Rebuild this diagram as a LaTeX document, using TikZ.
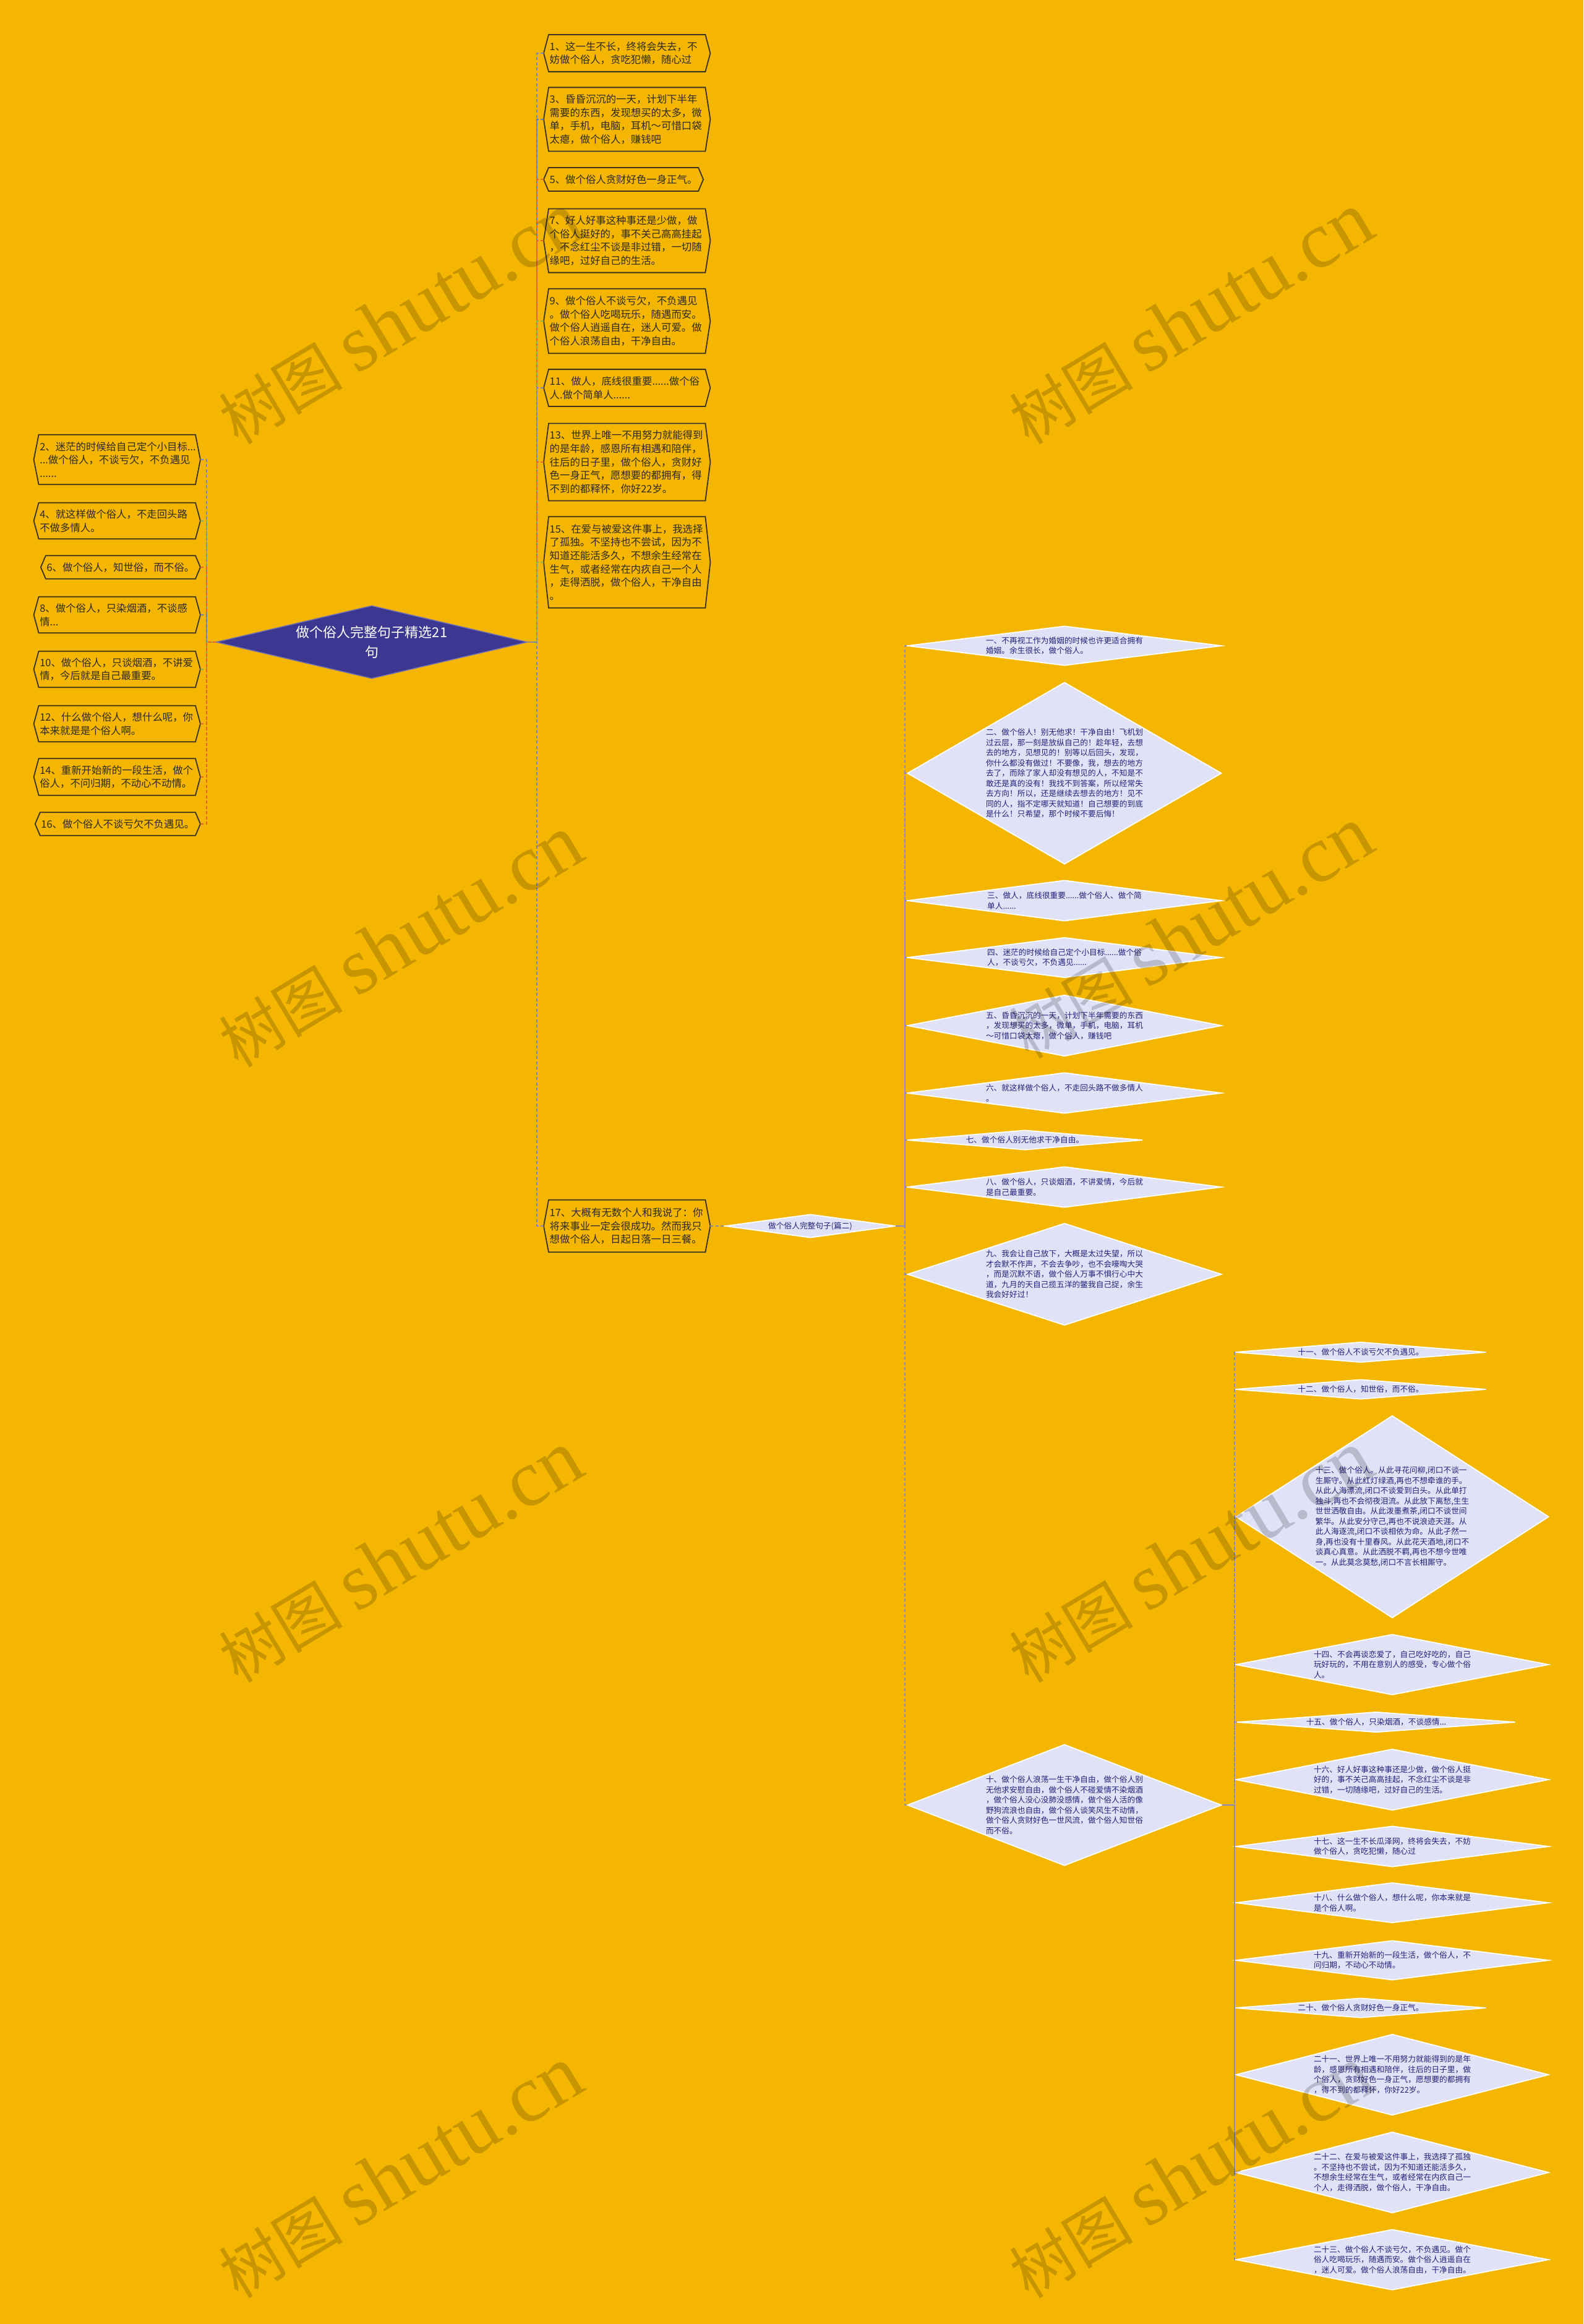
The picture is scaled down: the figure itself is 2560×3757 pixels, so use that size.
\documentclass[tikz,border=0pt]{standalone}
\usepackage{fontspec}
\setmainfont{Noto Sans CJK SC}
\newfontfamily\wmserif{Liberation Serif}
\usetikzlibrary{shapes.geometric}
\definecolor{bg}{HTML}{F4B600}
\definecolor{hexline}{HTML}{3B3220}
\definecolor{hextext}{HTML}{2E2A22}
\definecolor{rootfill}{HTML}{3C3791}
\definecolor{rootedge}{HTML}{7470B0}
\definecolor{lav}{HTML}{E1E2F7}
\definecolor{navy}{HTML}{22237A}
\definecolor{cA}{HTML}{7F86B8}
\definecolor{cB}{HTML}{E4662C}
\definecolor{cC}{HTML}{86B24C}
\definecolor{cD}{HTML}{5E7CC8}
\definecolor{cE}{HTML}{8A8AC4}
\definecolor{cF}{HTML}{8E8E98}
\newcommand\hexfr[1]{\draw[hexframe] ([xshift=-8pt]#1.west) -- (#1.north west) -- (#1.north east) -- ([xshift=8pt]#1.east) -- (#1.south east) -- (#1.south west) -- cycle;}
\begin{document}
\begin{tikzpicture}[x=1pt,y=-1pt,
  hexn/.style={inner xsep=1.5pt, inner ysep=0pt, text width=250pt, align=left, text=hextext, font=\fontsize{16.4}{21.7}\selectfont},
  hexone/.style={inner xsep=1.5pt, inner ysep=0pt, text=hextext, font=\fontsize{16.4}{21.7}\selectfont},
  hexframe/.style={draw=hexline, line width=1.8pt, line join=miter},
  rd/.style={shape=diamond, draw=white, line width=1.8pt, fill=lav, text=navy, inner sep=0pt, align=left, font=\fontsize{12.7}{16.5}\selectfont},
  rootd/.style={shape=diamond, fill=rootfill, draw=rootedge, line width=1.5pt, text=white, inner sep=0pt, align=center, font=\fontsize{22}{32}\selectfont},
  conn/.style={dash pattern=on 5pt off 3.5pt, line width=2pt},
  wm/.style={rotate=31, text=black, text opacity=0.18, inner sep=0pt, font=\fontsize{100}{100}\selectfont}
]
\useasboundingbox (0,0) rectangle (2560,3757);
\fill[bg] (0,0) rectangle (2560,3757);

% root
\node[rootd, minimum width=503, minimum height=118, shape aspect=4.26] (root) at (601,1038) {做个俗人完整句子精选21\\句};

% middle column
\node[hexn, anchor=west, minimum height=59.4] (m1) at (887,86) {1、这一生不长，终将会失去，不\\妨做个俗人，贪吃犯懒，随心过};
\node[hexn, anchor=west, minimum height=102.8] (m3) at (887,193) {3、昏昏沉沉的一天，计划下半年\\需要的东西，发现想买的太多，微\\单，手机，电脑，耳机～可惜口袋\\太瘪，做个俗人，赚钱吧};
\node[hexone, anchor=west, minimum height=37.7] (m5) at (887,290) {5、做个俗人贪财好色一身正气。};
\node[hexn, anchor=west, minimum height=102.8] (m7) at (887,389) {7、好人好事这种事还是少做，做\\个俗人挺好的，事不关己高高挂起\\，不念红尘不谈是非过错，一切随\\缘吧，过好自己的生活。};
\node[hexn, anchor=west, minimum height=104] (m9) at (887,519) {9、做个俗人不谈亏欠，不负遇见\\。做个俗人吃喝玩乐，随遇而安。\\做个俗人逍遥自在，迷人可爱。做\\个俗人浪荡自由，干净自由。};
\node[hexn, anchor=west, minimum height=59.4] (m11) at (887,627) {11、做人，底线很重要......做个俗\\人.做个简单人......};
\node[hexn, anchor=west, minimum height=124.5] (m13) at (887,747) {13、世界上唯一不用努力就能得到\\的是年龄，感恩所有相遇和陪伴，\\往后的日子里，做个俗人，贪财好\\色一身正气，愿想要的都拥有，得\\不到的都释怀，你好22岁。};
\node[hexn, anchor=west, minimum height=147] (m15) at (887,909) {15、在爱与被爱这件事上，我选择\\了孤独。不坚持也不尝试，因为不\\知道还能活多久，不想余生经常在\\生气，或者经常在内疚自己一个人\\，走得洒脱，做个俗人，干净自由\\。};
\node[hexn, anchor=west, minimum height=84] (m17) at (887,1982) {17、大概有无数个人和我说了：你\\将来事业一定会很成功。然而我只\\想做个俗人，日起日落一日三餐。};

% left column
\node[hexn, anchor=east, minimum height=80] (l2) at (316,743) {2、迷茫的时候给自己定个小目标...\\...做个俗人，不谈亏欠，不负遇见\\......};
\node[hexn, anchor=east, minimum height=58] (l4) at (316,842) {4、就这样做个俗人，不走回头路\\不做多情人。};
\node[hexone, anchor=east, minimum height=37] (l6) at (316,917) {6、做个俗人，知世俗，而不俗。};
\node[hexn, anchor=east, minimum height=58] (l8) at (316,994) {8、做个俗人，只染烟酒，不谈感\\情...};
\node[hexn, anchor=east, minimum height=58] (l10) at (316,1082) {10、做个俗人，只谈烟酒，不讲爱\\情，今后就是自己最重要。};
\node[hexn, anchor=east, minimum height=58] (l12) at (316,1170) {12、什么做个俗人，想什么呢，你\\本来就是是个俗人啊。};
\node[hexn, anchor=east, minimum height=59] (l14) at (316,1256) {14、重新开始新的一段生活，做个\\俗人，不问归期，不动心不动情。};
\node[hexone, anchor=east, minimum height=37] (l16) at (316,1332) {16、做个俗人不谈亏欠不负遇见。};

\foreach \n in {m1,m3,m5,m7,m9,m11,m13,m15,m17,l2,l4,l6,l8,l10,l12,l14,l16} {\hexfr{\n}}

% second-level diamond
\node[rd, minimum width=275, minimum height=38, shape aspect=7.24] (p2) at (1310,1982) {做个俗人完整句子(篇二)};

% right column
\node[rd, minimum width=508, minimum height=64, shape aspect=7.94] (r1) at (1721,1044) {一、不再视工作为婚姻的时候也许更适合拥有\\婚姻。余生很长，做个俗人。};
\node[rd, minimum width=508, minimum height=294, shape aspect=1.728] (r2) at (1721,1250) {二、做个俗人！别无他求！干净自由！飞机划\\过云层，那一刻是放纵自己的！趁年轻，去想\\去的地方，见想见的！别等以后回头，发现，\\你什么都没有做过！不要像，我，想去的地方\\去了，而除了家人却没有想见的人，不知是不\\敢还是真的没有！我找不到答案，所以经常失\\去方向！所以，还是继续去想去的地方！见不\\同的人，指不定哪天就知道！自己想要的到底\\是什么！只希望，那个时候不要后悔！};
\node[rd, minimum width=508, minimum height=66, shape aspect=7.7] (r3) at (1721,1456) {三、做人，底线很重要......做个俗人、做个简\\单人......};
\node[rd, minimum width=508, minimum height=65, shape aspect=7.82] (r4) at (1721,1548) {四、迷茫的时候给自己定个小目标......做个俗\\人，不谈亏欠，不负遇见......};
\node[rd, minimum width=508, minimum height=99, shape aspect=5.13] (r5) at (1721,1658) {五、昏昏沉沉的一天，计划下半年需要的东西\\，发现想买的太多，微单，手机，电脑，耳机\\～可惜口袋太瘪，做个俗人，赚钱吧};
\node[rd, minimum width=508, minimum height=66, shape aspect=7.7] (r6) at (1721,1767) {六、就这样做个俗人，不走回头路不做多情人\\。};
\node[rd, minimum width=381, minimum height=32, shape aspect=11.9] (r7) at (1657,1843) {七、做个俗人别无他求干净自由。};
\node[rd, minimum width=508, minimum height=66, shape aspect=7.7] (r8) at (1721,1919) {八、做个俗人，只谈烟酒，不讲爱情，今后就\\是自己最重要。};
\node[rd, minimum width=508, minimum height=165, shape aspect=3.08] (r9) at (1721,2060) {九、我会让自己放下，大概是太过失望，所以\\才会默不作声，不会去争吵，也不会嚎啕大哭\\，而是沉默不语，做个俗人万事不惧行心中大\\道，九月的天自己揽五洋的鳖我自己捉，余生\\我会好好过！};
\node[rd, minimum width=508, minimum height=196, shape aspect=2.59] (r10) at (1721,2918) {十、做个俗人浪荡一生干净自由，做个俗人别\\无他求安慰自由，做个俗人不碰爱情不染烟酒\\，做个俗人没心没肺没感情，做个俗人活的像\\野狗流浪也自由，做个俗人谈笑风生不动情，\\做个俗人贪财好色一世风流，做个俗人知世俗\\而不俗。};

% far right column
\node[rd, minimum width=406, minimum height=33, shape aspect=12.3] (f11) at (2200,2186) {十一、做个俗人不谈亏欠不负遇见。};
\node[rd, minimum width=406, minimum height=32, shape aspect=12.7] (f12) at (2200,2246) {十二、做个俗人，知世俗，而不俗。};
\node[rd, minimum width=506, minimum height=327, shape aspect=1.55] (f13) at (2251,2452) {十三、做个俗人。从此寻花问柳,闭口不谈一\\生厮守。从此红灯绿酒,再也不想牵谁的手。\\从此人海漂流,闭口不谈爱到白头。从此单打\\独斗,再也不会彻夜泪流。从此放下离愁,生生\\世世洒敬自由。从此泼墨煮茶,闭口不谈世间\\繁华。从此安分守己,再也不说浪迹天涯。从\\此人海逐流,闭口不谈相依为命。从此孑然一\\身,再也没有十里春风。从此花天酒地,闭口不\\谈真心真意。从此洒脱不羁,再也不想今世唯\\一。从此莫念莫愁,闭口不言长相厮守。};
\node[rd, minimum width=506, minimum height=98, shape aspect=5.16] (f14) at (2251,2691) {十四、不会再谈恋爱了，自己吃好吃的，自己\\玩好玩的，不用在意别人的感受，专心做个俗\\人。};
\node[rd, minimum width=450, minimum height=33, shape aspect=13.6] (f15) at (2225,2784) {十五、做个俗人，只染烟酒，不谈感情...};
\node[rd, minimum width=506, minimum height=99, shape aspect=5.11] (f16) at (2251,2877) {十六、好人好事这种事还是少做，做个俗人挺\\好的，事不关己高高挂起，不念红尘不谈是非\\过错，一切随缘吧，过好自己的生活。};
\node[rd, minimum width=506, minimum height=66, shape aspect=7.67] (f17) at (2251,2985) {十七、这一生不长瓜泽网，终将会失去，不妨\\做个俗人，贪吃犯懒，随心过};
\node[rd, minimum width=506, minimum height=65, shape aspect=7.78] (f18) at (2251,3076) {十八、什么做个俗人，想什么呢，你本来就是\\是个俗人啊。};
\node[rd, minimum width=506, minimum height=64, shape aspect=7.91] (f19) at (2251,3169) {十九、重新开始新的一段生活，做个俗人，不\\问归期，不动心不动情。};
\node[rd, minimum width=406, minimum height=32, shape aspect=12.7] (f20) at (2200,3246) {二十、做个俗人贪财好色一身正气。};
\node[rd, minimum width=506, minimum height=131, shape aspect=3.86] (f21) at (2251,3354) {二十一、世界上唯一不用努力就能得到的是年\\龄，感恩所有相遇和陪伴，往后的日子里，做\\个俗人，贪财好色一身正气，愿想要的都拥有\\，得不到的都释怀，你好22岁。};
\node[rd, minimum width=506, minimum height=131, shape aspect=3.86] (f22) at (2251,3512) {二十二、在爱与被爱这件事上，我选择了孤独\\。不坚持也不尝试，因为不知道还能活多久，\\不想余生经常在生气，或者经常在内疚自己一\\个人，走得洒脱，做个俗人，干净自由。};
\node[rd, minimum width=506, minimum height=98, shape aspect=5.16] (f23) at (2251,3653) {二十三、做个俗人不谈亏欠，不负遇见。做个\\俗人吃喝玩乐，随遇而安。做个俗人逍遥自在\\，迷人可爱。做个俗人浪荡自由，干净自由。};

% connectors: root to middle column
\draw[conn, cA] ([xshift=-8pt]m1.west) -| ([xshift=15pt]root.east) -- (root.east);
\draw[conn, cD] ([xshift=-8pt]m3.west) -| ([xshift=15pt]root.east) -- (root.east);
\draw[conn, cB] ([xshift=-8pt]m5.west) -| ([xshift=15pt]root.east) -- (root.east);
\draw[conn, cB] ([xshift=-8pt]m7.west) -| ([xshift=15pt]root.east) -- (root.east);
\draw[conn, cC] ([xshift=-8pt]m9.west) -| ([xshift=15pt]root.east) -- (root.east);
\draw[conn, cA] ([xshift=-8pt]m11.west) -| ([xshift=15pt]root.east) -- (root.east);
\draw[conn, cB] ([xshift=-8pt]m13.west) -| ([xshift=15pt]root.east) -- (root.east);
\draw[conn, cC] ([xshift=-8pt]m15.west) -| ([xshift=15pt]root.east) -- (root.east);
\draw[conn, cA] ([xshift=-8pt]m17.west) -| ([xshift=15pt]root.east) -- (root.east);
% root to left column
\draw[conn, cA] ([xshift=8pt]l2.east) -| ([xshift=-15pt]root.west) -- (root.west);
\draw[conn, cC] ([xshift=8pt]l4.east) -| ([xshift=-15pt]root.west) -- (root.west);
\draw[conn, cB] ([xshift=8pt]l6.east) -| ([xshift=-15pt]root.west) -- (root.west);
\draw[conn, cD] ([xshift=8pt]l8.east) -| ([xshift=-15pt]root.west) -- (root.west);
\draw[conn, cC] ([xshift=8pt]l10.east) -| ([xshift=-15pt]root.west) -- (root.west);
\draw[conn, cB] ([xshift=8pt]l12.east) -| ([xshift=-15pt]root.west) -- (root.west);
\draw[conn, cB] ([xshift=8pt]l14.east) -| ([xshift=-15pt]root.west) -- (root.west);
\draw[conn, cB] ([xshift=8pt]l16.east) -| ([xshift=-15pt]root.west) -- (root.west);
% 17 to second-level diamond
\draw[conn, cF] ([xshift=8pt]m17.east) -- (p2.west);
% second-level to right column
\foreach \n in {r1,r2,r3,r4,r5,r6,r7,r8,r9,r10} {\draw[conn, cE] (\n.west) -| ([xshift=15pt]p2.east) -- (p2.east);}
% ten to far right
\foreach \n in {f11,f12,f13,f14,f15,f16,f17,f18,f19,f20,f21,f22,f23} {\draw[conn, cE] (\n.west) -| ([xshift=20pt]r10.east) -- (r10.east);}

% watermarks
\node[wm] (wm1) at (647,515) {树图 {\wmserif\fontsize{130}{130}\selectfont shutu.cn}};
\node[wm] (wm2) at (1925,515) {树图 {\wmserif\fontsize{130}{130}\selectfont shutu.cn}};
\node[wm] (wm3) at (647,1522) {树图 {\wmserif\fontsize{130}{130}\selectfont shutu.cn}};
\node[wm] (wm4) at (1925,1508) {树图 {\wmserif\fontsize{130}{130}\selectfont shutu.cn}};
\node[wm] (wm5) at (647,2517) {树图 {\wmserif\fontsize{130}{130}\selectfont shutu.cn}};
\node[wm] (wm6) at (1925,2517) {树图 {\wmserif\fontsize{130}{130}\selectfont shutu.cn}};
\node[wm] (wm7) at (647,3512) {树图 {\wmserif\fontsize{130}{130}\selectfont shutu.cn}};
\node[wm] (wm8) at (1925,3512) {树图 {\wmserif\fontsize{130}{130}\selectfont shutu.cn}};
\end{tikzpicture}
\end{document}
